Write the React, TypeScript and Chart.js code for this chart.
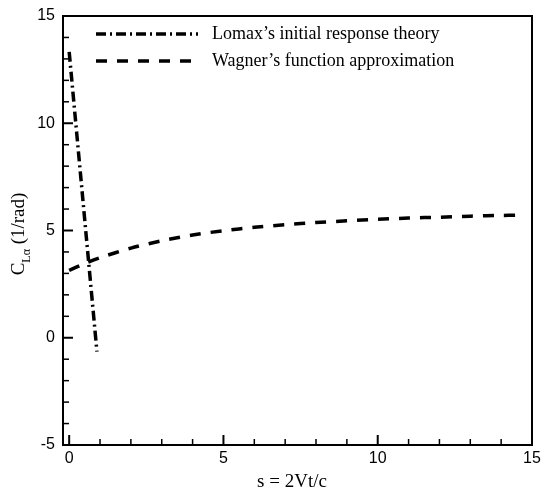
import React, { useEffect, useRef } from 'react';
import { Chart, registerables } from 'chart.js';
Chart.register(...registerables);

// Data
const lomaxS = [0, 0.9];
const lomaxC = [13.33, -0.65];
const wagnerS = [0, 0.5, 1, 2, 3, 4, 5, 6, 7, 8, 9, 10, 11, 12, 13, 14, 14.5];
const wagnerC = [3.14, 3.46, 3.73, 4.18, 4.52, 4.79, 4.99, 5.15, 5.27, 5.37, 5.45, 5.52, 5.58, 5.62, 5.67, 5.7, 5.71];
const xMajorTicks = [0, 5, 10, 15];
const yMajorTicks = [-5, 0, 5, 10, 15];
const seriesNames = ['Lomax\u2019s initial response theory', 'Wagner\u2019s function approximation'];
const xTitle = 's = 2Vt/c';
const yTitleMain = 'C';
const yTitleSub = 'L\u03b1';
const yTitleRest = ' (1/rad)';

const DASH_DOT = [10, 4, 2, 4];
const DASHED = [11, 10];
const SERIF = '"Liberation Serif", "Times New Roman", serif';
const SANS = '"Liberation Sans", Arial, sans-serif';

const decorPlugin = {
  id: 'decor',
  afterDraw(chart: any) {
    const { ctx, chartArea } = chart;
    const xs = chart.scales.x;
    const ys = chart.scales.y;
    const { left, top, right, bottom } = chartArea;
    ctx.save();
    ctx.strokeStyle = '#000';
    ctx.lineCap = 'butt';
    // frame
    ctx.lineWidth = 2;
    ctx.strokeRect(left, top, right - left, bottom - top);
    // x ticks (inward, from bottom)
    for (let v = 0; v <= 15; v += 1) {
      const px = xs.getPixelForValue(v);
      const major = v % 5 === 0;
      ctx.lineWidth = major ? 2 : 1.5;
      ctx.beginPath();
      ctx.moveTo(px, bottom);
      ctx.lineTo(px, bottom - (major ? 10 : 6));
      ctx.stroke();
    }
    // y ticks (inward, from left)
    for (let v = -4; v <= 14; v += 1) {
      const py = ys.getPixelForValue(v);
      const major = v % 5 === 0;
      ctx.lineWidth = major ? 2 : 1.5;
      ctx.beginPath();
      ctx.moveTo(left, py);
      ctx.lineTo(left + (major ? 10 : 6), py);
      ctx.stroke();
    }
    // legend
    const legendItems = [
      { name: seriesNames[0], dash: DASH_DOT, y: 34 },
      { name: seriesNames[1], dash: DASHED, y: 61 },
    ];
    ctx.font = `18px ${SERIF}`;
    ctx.fillStyle = '#000';
    ctx.textBaseline = 'middle';
    ctx.textAlign = 'left';
    for (const it of legendItems) {
      ctx.lineWidth = 3.5;
      ctx.setLineDash(it.dash);
      ctx.beginPath();
      ctx.moveTo(96, it.y);
      ctx.lineTo(198, it.y);
      ctx.stroke();
      ctx.setLineDash([]);
      ctx.fillText(it.name, 212, it.y);
    }
    // x title
    ctx.textAlign = 'center';
    ctx.textBaseline = 'alphabetic';
    ctx.font = `19px ${SERIF}`;
    ctx.fillText(xTitle, 292, 487);
    // y title (rotated)
    ctx.translate(24, 234);
    ctx.rotate(-Math.PI / 2);
    const mainFont = `19px ${SERIF}`;
    const subFont = `12px ${SERIF}`;
    ctx.font = mainFont;
    const wC = ctx.measureText(yTitleMain).width;
    const wR = ctx.measureText(yTitleRest).width;
    ctx.font = subFont;
    const wS = ctx.measureText(yTitleSub).width;
    const total = wC + wS + wR;
    let x0 = -total / 2;
    ctx.textAlign = 'left';
    ctx.font = mainFont;
    ctx.fillText(yTitleMain, x0, 0);
    x0 += wC;
    ctx.font = subFont;
    ctx.fillText(yTitleSub, x0, 6);
    x0 += wS;
    ctx.font = mainFont;
    ctx.fillText(yTitleRest, x0, 0);
    ctx.restore();
  },
};

export default function App() {
  const ref = useRef<HTMLCanvasElement | null>(null);
  useEffect(() => {
    document.body.style.margin = '0';
    if (!ref.current) return;
    const chart = new Chart(ref.current, {
      type: 'scatter',
      data: {
        datasets: [
          {
            label: seriesNames[0],
            data: lomaxS.map((s, i) => ({ x: s, y: lomaxC[i] })),
            showLine: true,
            borderColor: '#000',
            borderWidth: 3.5,
            borderDash: DASH_DOT,
            pointRadius: 0,
            fill: false,
          },
          {
            label: seriesNames[1],
            data: wagnerS.map((s, i) => ({ x: s, y: wagnerC[i] })),
            showLine: true,
            borderColor: '#000',
            borderWidth: 3.5,
            borderDash: DASHED,
            pointRadius: 0,
            fill: false,
            tension: 0.3,
          },
        ],
      },
      options: {
        animation: false,
        responsive: true,
        maintainAspectRatio: false,
        layout: { padding: { left: 0, top: 16, right: 9, bottom: 0 } },
        plugins: { legend: { display: false }, tooltip: { enabled: false }, title: { display: false } },
        scales: {
          x: {
            type: 'linear',
            min: -0.2,
            max: 15,
            afterBuildTicks: (s: any) => { s.ticks = xMajorTicks.map((v) => ({ value: v })); },
            afterFit: (s: any) => { s.height = 45; s.paddingLeft = 0; s.paddingRight = 0; },
            grid: { display: false, drawTicks: false },
            border: { display: false },
            ticks: { color: '#000', font: { family: SANS, size: 16 }, padding: 4, maxRotation: 0 },
          },
          y: {
            type: 'linear',
            min: -5,
            max: 15,
            afterBuildTicks: (s: any) => { s.ticks = yMajorTicks.map((v) => ({ value: v })); },
            afterFit: (s: any) => { s.width = 63; s.paddingTop = 0; s.paddingBottom = 0; },
            grid: { display: false, drawTicks: false },
            border: { display: false },
            ticks: { color: '#000', font: { family: SANS, size: 16 }, padding: 8 },
          },
        },
      },
      plugins: [decorPlugin],
    } as any);
    return () => chart.destroy();
  }, []);
  return (
    <div style={{ width: 541, height: 490, position: 'relative', background: '#fff' }}>
      <canvas ref={ref} />
    </div>
  );
}
